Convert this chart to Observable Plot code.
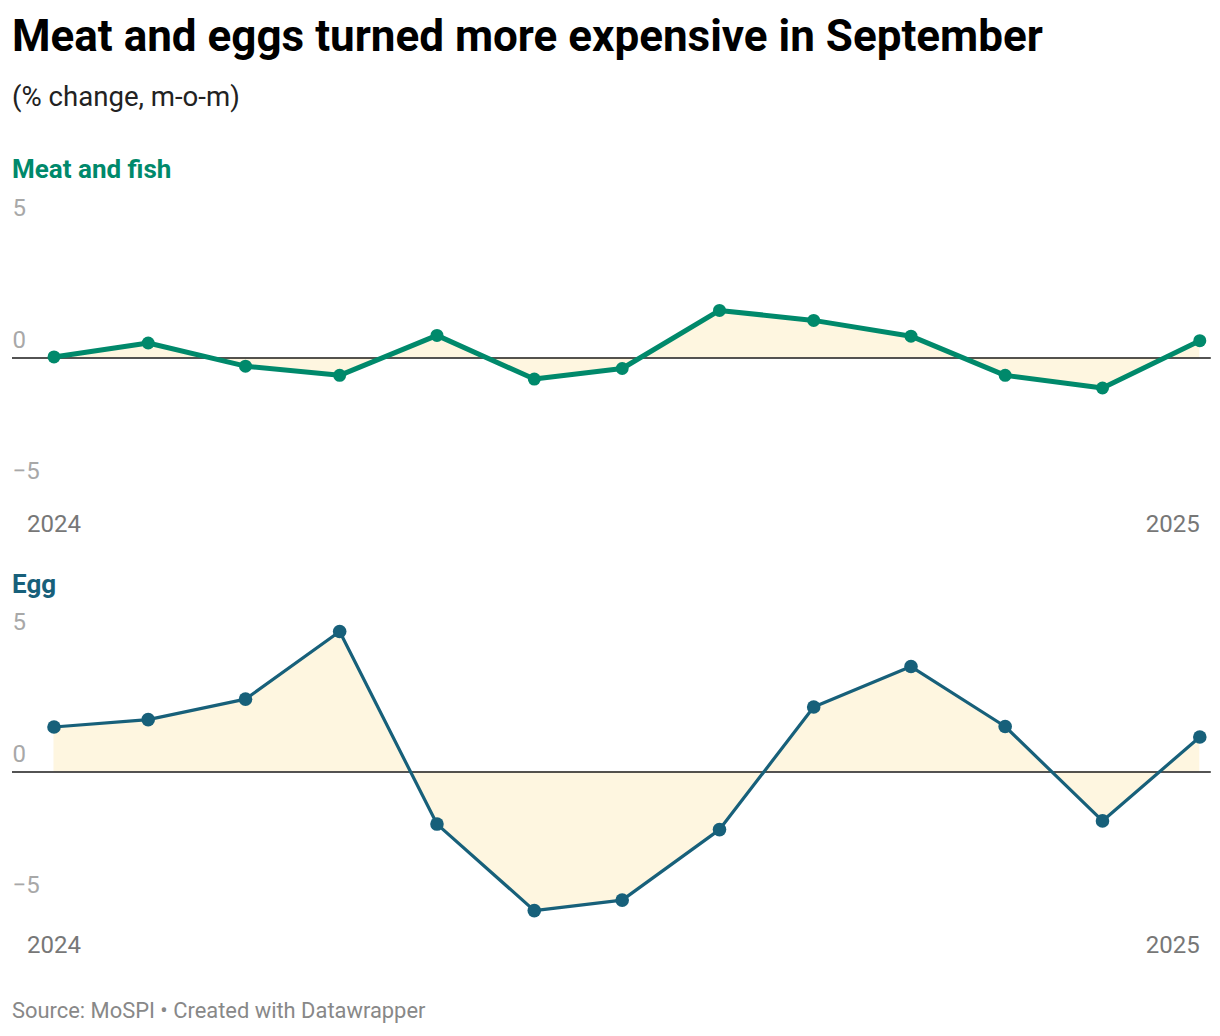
<!DOCTYPE html>
<html>
<head>
<meta charset="utf-8">
<script src="https://cdn.jsdelivr.net/npm/d3@7"></script>
<script src="https://cdn.jsdelivr.net/npm/@observablehq/plot@0.6"></script>
<style>
  html, body { margin: 0; padding: 0; background: #fff; }
  body { width: 1220px; height: 1036px; position: relative; font-family: Roboto, sans-serif; overflow: hidden; }
  .abs { position: absolute; left: 12px; white-space: nowrap; }
  #title { top: 10px; font-size: 44px; font-weight: 700; color: #000; line-height: 52px; }
  #subtitle { top: 81px; font-size: 27.6px; color: #222; line-height: 32px; }
  .head { font-size: 26px; font-weight: 700; line-height: 30px; }
  #h1 { top: 154px; color: #00896b; }
  #h2 { top: 569px; color: #17607a; }
  #caption { top: 998px; font-size: 21.9px; color: #888; line-height: 26px; }
  .panel { position: absolute; left: 0; }
  #p1 { top: 190px; }
  #p2 { top: 604px; }
</style>
</head>
<body>
<div id="title" class="abs">Meat and eggs turned more expensive in September</div>
<div id="subtitle" class="abs">(% change, m-o-m)</div>
<div id="h1" class="abs head">Meat and fish</div>
<div id="h2" class="abs head">Egg</div>
<div id="p1" class="panel"></div>
<div id="p2" class="panel"></div>
<div id="caption" class="abs">Source: MoSPI • Created with Datawrapper</div>
<script>
const months = ["2024-09-01","2024-10-01","2024-11-01","2024-12-01","2025-01-01","2025-02-01","2025-03-01","2025-04-01","2025-05-01","2025-06-01","2025-07-01","2025-08-01","2025-09-01"];
const meatFish = [0.04, 0.57, -0.31, -0.66, 0.86, -0.80, -0.40, 1.81, 1.43, 0.83, -0.66, -1.14, 0.66];
const egg = [1.71, 1.99, 2.77, 5.34, -1.98, -5.27, -4.87, -2.19, 2.47, 4.01, 1.73, -1.86, 1.33];
const yTicks = [-5, 0, 5];

const dates = months.map(d => new Date(d + "T00:00:00Z"));

function panel(values, color, strokeWidth, r, height, yearY) {
  const data = dates.map((d, i) => ({date: d, value: values[i]}));
  const first = dates[0], last = dates[dates.length - 1];
  return Plot.plot({
    width: 1220,
    height,
    marginLeft: 53.5,
    marginRight: 20.7,
    marginTop: 0,
    marginBottom: height - yearY,
    style: {fontFamily: "Roboto, sans-serif", fontSize: "24px", overflow: "visible"},
    x: {type: "utc", domain: [first, last]},
    y: {domain: [-5, 5], range: [299, 36]},
    marks: [
      Plot.areaY(data, {x: "date", y: "value", fill: "#fef6e0"}),
      Plot.axisY(yTicks, {tickSize: 0, tickPadding: 0, textAnchor: "start", dx: -41.5, dy: -17.7, fill: "#a8a8a8", fontSize: 24, label: null}),
      Plot.ruleY([0], {stroke: "#1a1a1a", strokeWidth: 1.6, insetLeft: -41.5, insetRight: -11.5}),
      Plot.line(data, {x: "date", y: "value", stroke: color, strokeWidth, strokeLinejoin: "round"}),
      Plot.dot(data, {x: "date", y: "value", fill: color, r}),
      Plot.axisX([first], {tickSize: 0, tickPadding: 0, lineAnchor: "middle", textAnchor: "middle", tickFormat: d3.utcFormat("%Y"), fill: "#777", fontSize: 24, label: null}),
      Plot.axisX([last], {tickSize: 0, tickPadding: 0, lineAnchor: "middle", textAnchor: "end", tickFormat: d3.utcFormat("%Y"), fill: "#777", fontSize: 24, label: null})
    ]
  });
}

document.getElementById("p1").append(panel(meatFish, "#00896b", 5, 6.5, 350, 334));
document.getElementById("p2").append(panel(egg, "#17607a", 3.2, 6.8, 370, 341));
</script>
</body>
</html>
